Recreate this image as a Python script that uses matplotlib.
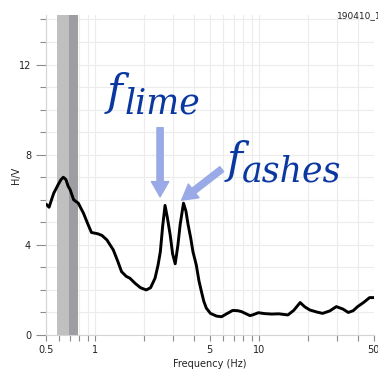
import matplotlib
matplotlib.use("Agg")
import matplotlib.pyplot as plt
from matplotlib.ticker import FixedLocator, NullFormatter
import numpy as np

# H/V curve
freq = [0.507, 0.524, 0.545, 0.56, 0.595, 0.62, 0.64, 0.664, 0.685, 0.705,
        0.74, 0.79, 0.85, 0.9, 0.95, 1.04, 1.1, 1.18, 1.29, 1.37,
        1.45, 1.55, 1.63, 1.75, 1.89, 2.05, 2.18, 2.32, 2.42, 2.5,
        2.58, 2.67, 2.76, 2.87, 2.97, 3.08, 3.2, 3.3, 3.46, 3.58,
        3.69, 3.83, 3.95, 4.14, 4.3, 4.45, 4.6, 4.77, 5.05, 5.5,
        5.9, 6.3, 6.9, 7.4, 7.8, 8.8, 9.2, 9.9, 10.8, 11.9,
        13.2, 15.0, 16.3, 17.8, 19.0, 20.4, 22.5, 24.4, 27.0, 29.6,
        32.5, 35.0, 37.5, 39.9, 43.5, 47.2, 50.0]
hv = [5.78, 5.67, 6.05, 6.3, 6.67, 6.9, 7.0, 6.9, 6.6, 6.44,
      6.0, 5.85, 5.4, 4.95, 4.55, 4.49, 4.42, 4.22, 3.78, 3.3,
      2.81, 2.6, 2.52, 2.3, 2.1, 2.0, 2.1, 2.52, 3.1, 3.7,
      4.8, 5.75, 5.2, 4.44, 3.6, 3.16, 4.0, 4.89, 5.85, 5.5,
      4.9, 4.3, 3.7, 3.11, 2.4, 1.93, 1.5, 1.19, 0.96, 0.84,
      0.81, 0.93, 1.09, 1.08, 1.04, 0.86, 0.9, 0.99, 0.95, 0.93,
      0.94, 0.89, 1.1, 1.44, 1.25, 1.11, 1.02, 0.96, 1.07, 1.26,
      1.15, 1.0, 1.08, 1.26, 1.45, 1.66, 1.66]

band_light = (0.586, 0.689)
band_dark = (0.689, 0.786)

x_major = [0.5, 1, 5, 10, 50]
x_labels = ["0.5", "1", "5", "10", "50"]
x_minor = [0.6, 0.7, 0.8, 0.9, 2, 3, 4, 6, 7, 8, 9, 20, 30, 40]
y_major = [0, 4, 8, 12]
y_minor = list(range(0, 15))

fig = plt.figure(figsize=(3.78, 3.71), dpi=100)
ax = fig.add_axes([0.121, 0.097, 0.8676, 0.8626])

ax.axvspan(*band_light, color="#c0c0c0", lw=0, zorder=1)
ax.axvspan(*band_dark, color="#9e9ea2", lw=0, zorder=1)
ax.plot(freq, hv, color="black", lw=2.1, solid_joinstyle="round", zorder=3)

ax.set_xscale("log")
ax.set_xlim(0.5, 50)
ax.set_ylim(0, 14.2)
ax.xaxis.set_major_locator(FixedLocator(x_major))
ax.set_xticklabels(x_labels)
ax.xaxis.set_minor_locator(FixedLocator(x_minor))
ax.xaxis.set_minor_formatter(NullFormatter())
ax.yaxis.set_major_locator(FixedLocator(y_major))
ax.yaxis.set_minor_locator(FixedLocator(y_minor))

ax.grid(True, which="both", color="#ececec", lw=0.8, zorder=0)
ax.set_axisbelow(True)
for s in ["top", "right"]:
    ax.spines[s].set_visible(False)
for s in ["left", "bottom"]:
    ax.spines[s].set_color("#d4d4d4")
    ax.spines[s].set_linewidth(0.8)
ax.tick_params(which="both", colors="#8c8c8c", labelcolor="#222222", labelsize=7, width=0.8)
ax.tick_params(axis="y", which="major", length=7)
ax.tick_params(axis="y", which="minor", length=4)
ax.tick_params(axis="x", which="both", length=4, pad=3)

ax.set_xlabel("Frequency (Hz)", fontsize=7, color="#222222", labelpad=3)
ax.set_ylabel("H/V", fontsize=7, color="#222222")
ax.yaxis.set_label_coords(-0.075, 0.5)

fig.text(337/378, 1 - 16/371, "190410_1234", fontsize=6.5, color="#222222",
         ha="left", va="center")

# arrows pointing to the two peaks
arrow_col = "#9aaae6"
ax.annotate("", xy=(2.49, 6.13), xytext=(2.49, 9.2),
            arrowprops=dict(arrowstyle="simple,head_width=1.25,head_length=1.1,tail_width=0.45",
                            color=arrow_col, mutation_scale=10, shrinkA=0, shrinkB=0))
ax.annotate("", xy=(3.37, 5.98), xytext=(5.92, 7.36),
            arrowprops=dict(arrowstyle="simple,head_width=1.25,head_length=1.1,tail_width=0.45",
                            color=arrow_col, mutation_scale=10, shrinkA=0, shrinkB=0))

txt_col = "#0a38a0"
def px(x, y):
    return x / 378, 1 - y / 371

fig.text(*px(107, 105), "f", fontsize=31, family="DejaVu Serif", style="italic",
         color=txt_col, ha="left", va="baseline")
fig.text(*px(125, 113), "lime", fontsize=25, family="DejaVu Serif", style="italic",
         color=txt_col, ha="left", va="baseline")
fig.text(*px(227, 173), "f", fontsize=31, family="DejaVu Serif", style="italic",
         color=txt_col, ha="left", va="baseline")
fig.text(*px(242, 182), "ashes", fontsize=25, family="DejaVu Serif", style="italic",
         color=txt_col, ha="left", va="baseline")

fig.savefig("out.png", dpi=100)
